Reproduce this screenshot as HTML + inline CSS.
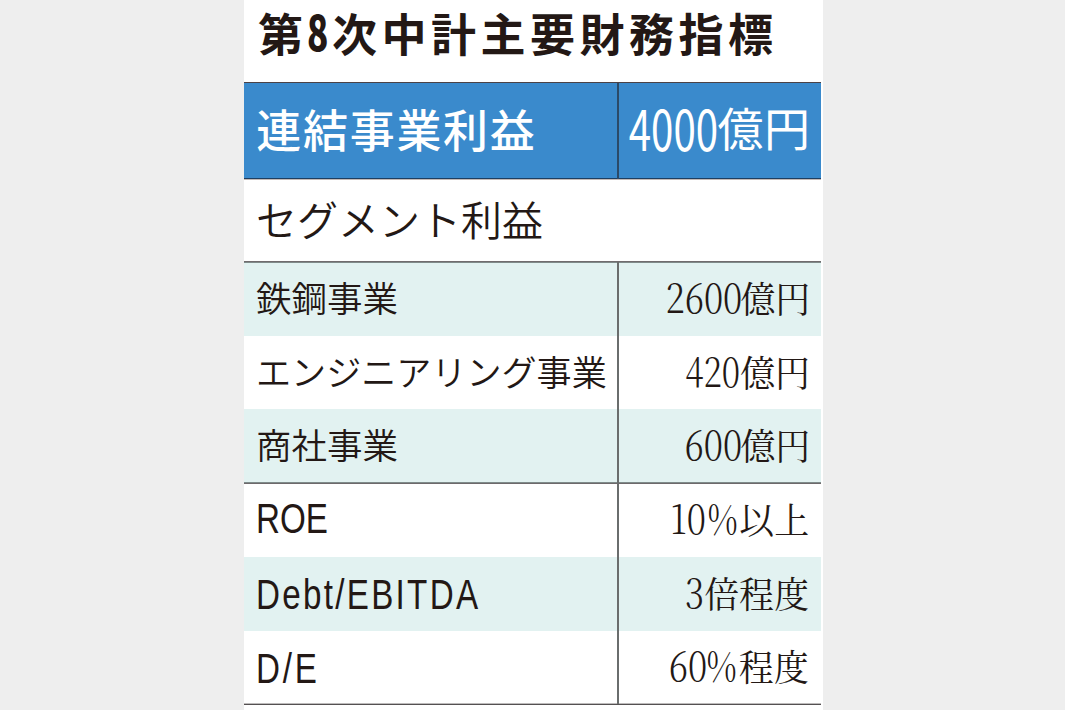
<!DOCTYPE html>
<html lang="ja">
<head>
<meta charset="utf-8">
<title>第8次中計主要財務指標</title>
<style>
html,body{margin:0;padding:0;}
body{width:1065px;height:710px;overflow:hidden;position:relative;background:#eeeeee;
  font-family:"Liberation Sans","Noto Sans CJK JP",sans-serif;color:#231815;}
.panel{position:absolute;left:244px;top:0;width:579px;height:710px;background:#fff;}
.hl{position:absolute;left:0;width:577px;background:#6e6a6a;}
.vl{position:absolute;left:373px;width:2px;background:#6a6d6d;}
.teal{position:absolute;left:0;width:577px;background:#e2f2f1;}
.blue{position:absolute;left:0;top:83px;width:577px;height:95px;background:#3a8acc;}
.t{position:absolute;white-space:nowrap;line-height:1;transform-origin:0 0;}
.r{position:absolute;white-space:nowrap;line-height:1;right:14px;transform-origin:100% 0;text-align:right;}
.goth{font-family:"Liberation Sans","Noto Sans CJK JP",sans-serif;}
.min{font-family:"Liberation Serif","Noto Serif CJK JP","Noto Serif CJK SC",serif;}
.title{left:14px;top:13.6px;font-size:45px;font-weight:700;letter-spacing:4.5px;}
.title .n{display:inline-block;position:relative;width:24.4px;height:0;}
.title .n i{position:absolute;left:-1px;bottom:-2.6px;font-style:normal;font-family:"Noto Sans CJK JP",sans-serif;font-weight:900;font-size:48px;line-height:1;letter-spacing:0;transform:scaleX(.73);transform-origin:0 50%;}
.h1{left:12.3px;top:110px;font-size:45px;letter-spacing:1.7px;font-weight:500;color:#fff;}
.h1v{top:99.2px;font-size:46px;color:#fff;font-weight:400;letter-spacing:.5px;right:12.5px;}
.h1v .d{display:inline-block;font-family:"Noto Sans CJK JP",sans-serif;font-weight:400;font-size:55.9px;line-height:46px;letter-spacing:0;
  transform:scaleX(.72);transform-origin:100% 50%;position:relative;top:5px;margin-right:-1px;}
.seg{left:12px;top:202px;font-size:41px;font-weight:350;}
.row{font-weight:350;left:12px;}
.lat{font-size:42px;left:11px;}
.val{font-size:36px;font-weight:400;transform:scaleX(.971);right:13px;}
.val .d{display:inline-block;font-family:"Noto Serif CJK JP","Noto Serif CJK SC",serif;font-weight:300;font-size:40.1px;line-height:36px;transform-origin:100% 50%;transform:scaleX(.897);position:relative;top:0.2px;margin-right:-2px;}
.val .p{transform:scaleX(.85);margin-right:2px;}
</style>
</head>
<body>
<div class="panel">
  <div class="t goth title">第<span class="n"><i>8</i></span>次中計主要財務指標</div>

  <div class="blue"></div>
  <div class="hl" style="top:82px;height:1px;background:#4b4246"></div>
  <div class="hl" style="top:178px;height:1px;background:#1d3f62"></div>
  <div class="hl" style="top:179px;height:1px;background:#c4bab6"></div>
  <div class="t goth h1">連結事業利益</div>
  <div class="r goth h1v"><span class="d">4000</span>億円</div>

  <div class="t goth seg">セグメント利益</div>

  <div class="teal" style="top:263px;height:73px"></div>
  <div class="teal" style="top:408.5px;height:73.5px"></div>
  <div class="teal" style="top:557px;height:73.5px"></div>

  <div class="hl" style="top:261px;height:1px;background:#706c6e"></div>
  <div class="hl" style="top:262px;height:1px;background:#7f8b8a"></div>
  <div class="hl" style="top:482px;height:1px;background:#7f8b8a"></div>
  <div class="hl" style="top:483px;height:1px;background:#6d696b"></div>
  <div class="hl" style="top:703px;height:1px;background:#bdbbbb"></div>
  <div class="hl" style="top:704px;height:1px;background:#555152"></div>
  <div class="vl" style="top:83px;height:96px;background:#2b4a68"></div>
  <div class="vl" style="top:262px;height:442px"></div>

  <div class="t goth row" style="top:282.5px;font-size:35.5px">鉄鋼事業</div>
  <div class="t goth row" style="top:356px;font-size:35.1px">エンジニアリング事業</div>
  <div class="t goth row" style="top:430px;font-size:35.5px">商社事業</div>
  <div class="t goth lat" style="top:498.3px;left:12px;transform:scaleX(.79)">ROE</div>
  <div class="t goth lat" style="top:574.4px;left:11.5px;transform:scaleX(.79);letter-spacing:2.9px">Debt/EBITDA</div>
  <div class="t goth lat" style="top:647.5px;left:11.5px;transform:scaleX(.79);letter-spacing:3.6px">D/E</div>

  <div class="r min val" style="top:278px"><span class="d">2600</span>億円</div>
  <div class="r min val" style="top:351.5px"><span class="d" style="transform:scaleX(.855);margin-right:0">420</span>億円</div>
  <div class="r min val" style="top:425px"><span class="d">600</span>億円</div>
  <div class="r min val" style="top:498.7px;right:14px"><span class="d" style="margin-right:-4.3px">10</span><span class="d p">%</span>以上</div>
  <div class="r min val" style="top:572.5px;right:14px"><span class="d" style="margin-right:0">3</span>倍程度</div>
  <div class="r min val" style="top:645.7px;right:14px"><span class="d" style="margin-right:-6px">60</span><span class="d p">%</span>程度</div>
</div>
</body>
</html>
